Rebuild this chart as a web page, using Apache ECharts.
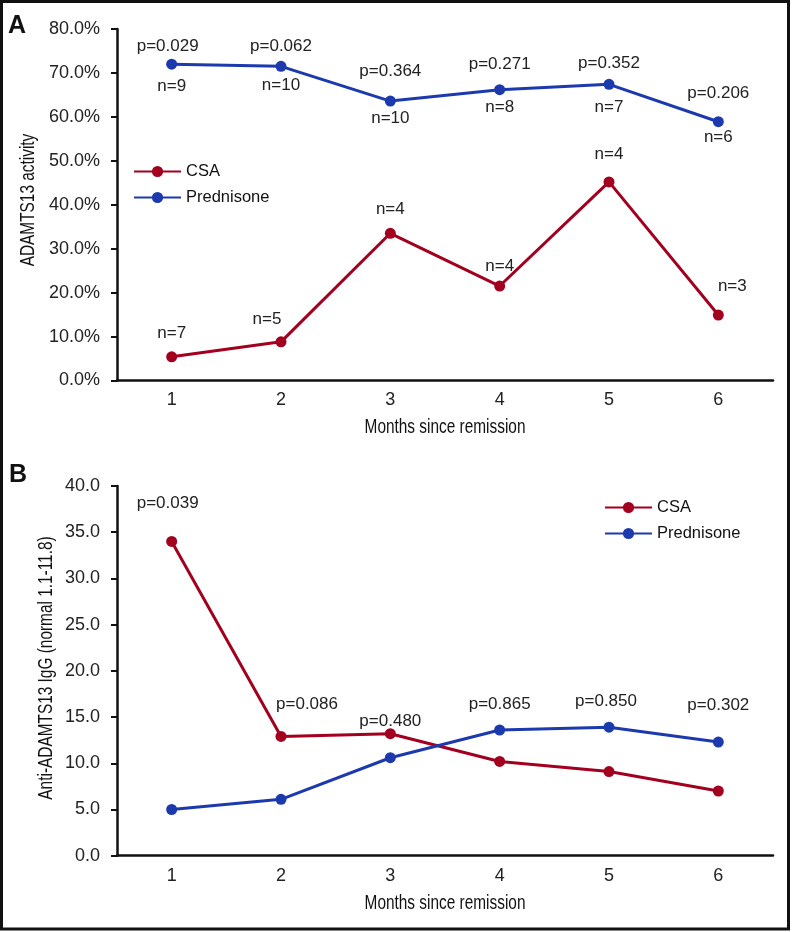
<!DOCTYPE html>
<html>
<head>
<meta charset="utf-8">
<script src="https://cdn.jsdelivr.net/npm/echarts@6/dist/echarts.min.js"></script>
<style>
  html, body { margin: 0; padding: 0; background: #fff; }
  #chart { width: 792px; height: 932px; }
</style>
</head>
<body>
<div id="chart"></div>
<script>
var months = ['1', '2', '3', '4', '5', '6'];

// panel A - ADAMTS13 activity (%)
var csaActivity = [5.4, 8.8, 33.5, 21.5, 45.2, 14.9];
var predActivity = [72.0, 71.5, 63.6, 66.2, 67.4, 58.9];
var csaN = [7, 5, 4, 4, 4, 3];
var predN = [9, 10, 10, 8, 7, 6];
var pActivity = ['0.029', '0.062', '0.364', '0.271', '0.352', '0.206'];

// panel B - anti-ADAMTS13 IgG
var csaIgG = [34.0, 12.9, 13.2, 10.2, 9.1, 7.0];
var predIgG = [5.0, 6.1, 10.6, 13.6, 13.9, 12.3];
var pIgG = ['0.039', '0.086', '0.480', '0.865', '0.850', '0.302'];

// small hand nudges so the annotations sit where the figure has them
var nudgeCsaN = [[0, 0], [-14, 0], [0, -1], [0, 3], [0, -5], [14, -6]];
var nudgePredN = [[0, 2], [0, -1], [0, -3], [0, -2], [0, 3], [0, -4]];
var nudgePA = [[-4, 4], [0, 2], [0, -8], [0, -3], [0, 1], [0, -6]];
var nudgePB = [[-4, -6], [26, 0], [0, 20], [0, 6], [-3, 6], [0, -5]];

var RED = '#A3001F';
var BLUE = '#1C3AAE';
var FONT = '"Liberation Sans", Arial, sans-serif';

var chart = echarts.init(document.getElementById('chart'), null, { renderer: 'canvas' });

function withOffsets(values, nudges) {
    return values.map(function (v, i) {
        return { value: v, label: { offset: nudges[i] } };
    });
}

function xAxisFor(gridIndex) {
    return {
        type: 'category',
        gridIndex: gridIndex,
        data: months,
        axisLine: { lineStyle: { color: '#111', width: 2.5 } },
        axisTick: { show: false },
        axisLabel: { fontFamily: FONT, fontSize: 18, color: '#222', margin: 11 },
        splitLine: { show: false }
    };
}

function yAxisFor(gridIndex, max, interval, fmt) {
    return {
        type: 'value',
        gridIndex: gridIndex,
        min: 0,
        max: max,
        interval: interval,
        axisLine: { show: true, lineStyle: { color: '#111', width: 2.5 } },
        axisTick: { show: true, length: 6, lineStyle: { color: '#111', width: 2 } },
        axisLabel: { fontFamily: FONT, fontSize: 18, color: '#222', margin: 17, formatter: fmt },
        splitLine: { show: false }
    };
}

var labelText = { fontFamily: FONT, fontSize: 17, color: '#222' };

function lineSeries(name, color, data, xi, yi, extra) {
    var s = {
        name: name,
        type: 'line',
        xAxisIndex: xi,
        yAxisIndex: yi,
        data: data,
        symbol: 'circle',
        symbolSize: 11,
        lineStyle: { color: color, width: 3 },
        itemStyle: { color: color },
        z: 3
    };
    for (var k in extra) s[k] = extra[k];
    return s;
}

// condensed axis titles: regular font squeezed horizontally
function axisTitle(text, x, y, vertical) {
    return {
        type: 'text',
        x: x, y: y,
        rotation: vertical ? Math.PI / 2 : 0,
        scaleX: 0.77,
        silent: true,
        style: {
            text: text,
            font: '20px ' + FONT,
            fill: '#111',
            align: 'center',
            verticalAlign: 'middle'
        }
    };
}

var legendBase = {
    data: ['CSA', 'Prednisone'],
    orient: 'vertical',
    itemWidth: 47, itemHeight: 14, itemGap: 9,
    textStyle: { fontFamily: FONT, fontSize: 16.5, color: '#111' }
};

var option = {
    animation: false,
    backgroundColor: '#fff',
    grid: [
        { left: 117, right: 19, top: 29, height: 351.5 },
        { left: 117, right: 19, top: 486, height: 369.7 }
    ],
    xAxis: [xAxisFor(0), xAxisFor(1)],
    yAxis: [
        yAxisFor(0, 80, 10, function (v) { return v.toFixed(1) + '%'; }),
        yAxisFor(1, 40, 5, function (v) { return v.toFixed(1); })
    ],
    legend: [
        Object.assign({ left: 128, top: 158 }, legendBase),
        Object.assign({ left: 599, top: 494 }, legendBase)
    ],
    series: [
        // panel A
        lineSeries('CSA', RED, withOffsets(csaActivity, nudgeCsaN), 0, 0, {
            label: Object.assign({ show: true, position: 'top', distance: 9,
                formatter: function (p) { return 'n=' + csaN[p.dataIndex]; } }, labelText)
        }),
        lineSeries('Prednisone', BLUE, withOffsets(predActivity, nudgePredN), 0, 0, {
            label: Object.assign({ show: true, position: 'bottom', distance: 6,
                formatter: function (p) { return 'n=' + predN[p.dataIndex]; } }, labelText)
        }),
        // p-values above the prednisone line (label carrier only)
        {
            name: 'pA', type: 'line', xAxisIndex: 0, yAxisIndex: 0,
            data: withOffsets(predActivity, nudgePA), symbol: 'circle', symbolSize: 11,
            itemStyle: { color: 'rgba(0,0,0,0)' },
            lineStyle: { width: 0, color: 'rgba(0,0,0,0)' },
            silent: true, z: 1,
            label: Object.assign({ show: true, position: 'top', distance: 8,
                formatter: function (p) { return 'p=' + pActivity[p.dataIndex]; } }, labelText)
        },
        // panel B - p-value sits above whichever group is higher
        lineSeries('CSA', RED, withOffsets(csaIgG, nudgePB), 1, 1, {
            label: Object.assign({ show: true, position: 'top', distance: 18,
                formatter: function (p) {
                    var i = p.dataIndex;
                    return csaIgG[i] >= predIgG[i] ? 'p=' + pIgG[i] : '';
                } }, labelText)
        }),
        lineSeries('Prednisone', BLUE, withOffsets(predIgG, nudgePB), 1, 1, {
            label: Object.assign({ show: true, position: 'top', distance: 18,
                formatter: function (p) {
                    var i = p.dataIndex;
                    return predIgG[i] > csaIgG[i] ? 'p=' + pIgG[i] : '';
                } }, labelText)
        })
    ],
    graphic: [
        {
            type: 'rect', silent: true,
            shape: { x: 1.5, y: 1.5, width: 787, height: 927.5 },
            style: { fill: 'none', stroke: '#111', lineWidth: 3 }
        },
        {
            type: 'text', x: 8, y: 26, silent: true,
            style: { text: 'A', font: 'bold 25px ' + FONT, fill: '#111', verticalAlign: 'middle' }
        },
        {
            type: 'text', x: 9, y: 475, silent: true,
            style: { text: 'B', font: 'bold 25px ' + FONT, fill: '#111', verticalAlign: 'middle' }
        },
        axisTitle('ADAMTS13 activity', 28, 200, true),
        axisTitle('Months since remission', 445, 427, false),
        axisTitle('Anti-ADAMTS13 IgG (normal 1.1-11.8)', 46, 668, true),
        axisTitle('Months since remission', 445, 903, false)
    ]
};

if (option && typeof option === 'object') {
    chart.setOption(option);
}

window.addEventListener('resize', function () {
    chart.resize();
});
</script>
</body>
</html>
